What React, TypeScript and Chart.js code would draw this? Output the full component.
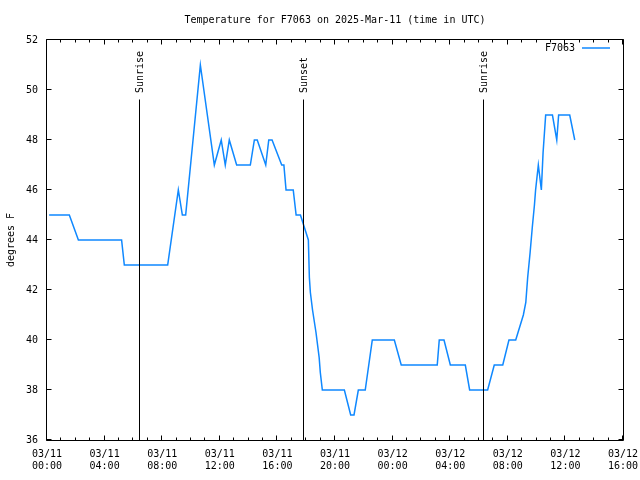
import React, { useEffect, useRef } from "react";
import { Chart, registerables } from "chart.js";

Chart.register(...registerables);

const TITLE = "Temperature for F7063 on 2025-Mar-11 (time in UTC)";
const SERIES_LABEL = "F7063";
const Y_LABEL = "degrees F";

// hours since 2025-03-11 00:00 UTC
const hours = [
  0.15, 1.55, 2.18, 5.18, 5.37, 8.38, 9.12, 9.4, 9.63, 10.65,
  11.62, 12.1, 12.38, 12.66, 13.17, 14.12, 14.4, 14.6, 15.19, 15.4,
  15.63, 16.3, 16.45, 16.6, 17.1, 17.3, 17.6, 18.15, 18.22, 18.29,
  18.44, 18.68, 18.9, 18.98, 19.12, 20.65, 21.09, 21.32, 21.62, 22.1,
  22.59, 24.12, 24.6, 27.1, 27.24, 27.57, 28.01, 29.05, 29.35, 30.6,
  31.06, 31.65, 32.08, 32.55, 33.08, 33.25, 33.38, 33.55, 33.7, 33.85,
  33.93, 34.12, 34.33, 34.45, 34.63, 35.1, 35.4, 35.53, 36.3, 36.65,
];
const temps = [
  45, 45, 44, 44, 43, 43, 46, 45, 45, 51,
  47, 48, 47, 48, 47, 47, 48, 48, 47, 48,
  48, 47, 47, 46, 46, 45, 45, 44, 42.5, 41.9,
  41.2, 40.3, 39.3, 38.7, 38, 38, 37, 37, 38, 38,
  40, 40, 39, 39, 40, 40, 39, 39, 38, 38,
  39, 39, 40, 40, 41, 41.5, 42.5, 43.5, 44.5, 45.4,
  46, 47, 46, 47.5, 49, 49, 48, 49, 49, 48,
];

const xTickHours = [0, 4, 8, 12, 16, 20, 24, 28, 32, 36, 40];
const xTickDates = ["03/11", "03/11", "03/11", "03/11", "03/11", "03/11", "03/12", "03/12", "03/12", "03/12", "03/12"];
const xTickTimes = ["00:00", "04:00", "08:00", "12:00", "16:00", "20:00", "00:00", "04:00", "08:00", "12:00", "16:00"];
const yTicks = [36, 38, 40, 42, 44, 46, 48, 50, 52];

const eventHours = [6.38, 17.8, 30.3];
const eventLabels = ["Sunrise", "Sunset", "Sunrise"];

const LINE_COLOR = "#0f88ff";
const MONO = "'DejaVu Sans Mono', monospace";

const decorPlugin = {
  id: "decor",
  afterDatasetsDraw(chart: any) {
    const { ctx, chartArea } = chart;
    const xs = chart.scales.x;
    const ys = chart.scales.y;
    const L = Math.round(chartArea.left) - 0.5;
    const R = Math.round(chartArea.right) + 0.5;
    const T = Math.round(chartArea.top) - 0.5;
    const B = Math.round(chartArea.bottom) + 0.5;
    ctx.save();
    ctx.strokeStyle = "#000";
    ctx.lineWidth = 1;
    // event lines
    eventHours.forEach((h, i) => {
      const px = Math.round(xs.getPixelForValue(h)) + 0.5;
      ctx.beginPath();
      ctx.moveTo(px, 99.5);
      ctx.lineTo(px, B);
      ctx.stroke();
      ctx.save();
      ctx.translate(px + 1, 93);
      ctx.rotate(-Math.PI / 2);
      ctx.fillStyle = "#000";
      ctx.font = `10px ${MONO}`;
      ctx.textAlign = "left";
      ctx.textBaseline = "middle";
      ctx.fillText(eventLabels[i], 0, 0);
      ctx.restore();
    });
    // frame
    ctx.beginPath();
    ctx.rect(L, T, R - L, B - T);
    ctx.stroke();
    // x ticks (minor each hour, major each 4h)
    ctx.beginPath();
    for (let h = 0; h <= 40; h++) {
      const px = Math.round(xs.getPixelForValue(h)) - 0.5;
      const len = h % 4 === 0 ? 5 : 3;
      ctx.moveTo(px, B);
      ctx.lineTo(px, B - len);
      ctx.moveTo(px, T);
      ctx.lineTo(px, T + len);
    }
    // y ticks
    yTicks.forEach((v) => {
      const py = Math.round(ys.getPixelForValue(v)) - 0.5;
      ctx.moveTo(L, py);
      ctx.lineTo(L + 5, py);
      ctx.moveTo(R, py);
      ctx.lineTo(R - 5, py);
    });
    ctx.stroke();
    // title
    ctx.fillStyle = "#000";
    ctx.font = `10px ${MONO}`;
    ctx.textAlign = "center";
    ctx.textBaseline = "middle";
    ctx.fillText(TITLE, (chartArea.left + chartArea.right) / 2, 20);
    // legend
    ctx.textAlign = "right";
    ctx.fillText(SERIES_LABEL, 575, 48);
    ctx.strokeStyle = LINE_COLOR;
    ctx.lineWidth = 1.5;
    ctx.beginPath();
    ctx.moveTo(582, 48);
    ctx.lineTo(610, 48);
    ctx.stroke();
    // y label
    ctx.save();
    ctx.translate(11, 240);
    ctx.rotate(-Math.PI / 2);
    ctx.font = `10px ${MONO}`;
    ctx.textAlign = "center";
    ctx.textBaseline = "middle";
    ctx.fillText(Y_LABEL, 0, 0);
    ctx.restore();
    ctx.restore();
  },
};

export default function App() {
  const ref = useRef<HTMLCanvasElement>(null);
  useEffect(() => {
    if (!ref.current) return;
    const chart = new Chart(ref.current, {
      type: "line",
      data: {
        datasets: [
          {
            label: SERIES_LABEL,
            data: hours.map((h, i) => ({ x: h, y: temps[i] })),
            borderColor: LINE_COLOR,
            borderWidth: 1.5,
            pointRadius: 0,
            tension: 0,
            fill: false,
          },
        ],
      },
      options: {
        animation: false,
        responsive: false,
        devicePixelRatio: 1,
        layout: { padding: { left: 0, right: 17, top: 40, bottom: 0 } },
        plugins: { legend: { display: false }, title: { display: false }, tooltip: { enabled: false } },
        scales: {
          x: {
            type: "linear",
            min: 0,
            max: 40,
            afterBuildTicks: (scale: any) => {
              scale.ticks = xTickHours.map((v) => ({ value: v }));
            },
            afterFit: (scale: any) => {
              scale.height = 40;
              scale.paddingLeft = 0;
              scale.paddingRight = 0;
            },
            grid: { display: false, drawTicks: false },
            border: { display: false },
            ticks: {
              autoSkip: false,
              maxRotation: 0,
              padding: 8,
              color: "#000",
              font: { family: MONO, size: 10, lineHeight: 1.2 },
              callback: (v: any) => {
                const i = xTickHours.indexOf(Number(v));
                return i >= 0 ? [xTickDates[i], xTickTimes[i]] : "";
              },
            },
          },
          y: {
            type: "linear",
            min: 36,
            max: 52,
            afterBuildTicks: (scale: any) => {
              scale.ticks = yTicks.map((v) => ({ value: v }));
            },
            afterFit: (scale: any) => {
              scale.width = 47;
              scale.paddingTop = 0;
              scale.paddingBottom = 0;
            },
            grid: { display: false, drawTicks: false },
            border: { display: false },
            ticks: {
              padding: 9,
              color: "#000",
              font: { family: MONO, size: 10 },
            },
          },
        },
      },
      plugins: [decorPlugin],
    });
    return () => chart.destroy();
  }, []);
  return (
    <div style={{ position: "absolute", left: 0, top: 0, width: 640, height: 480, background: "#fff" }}>
      <canvas ref={ref} width={640} height={480} style={{ display: "block" }} />
    </div>
  );
}
